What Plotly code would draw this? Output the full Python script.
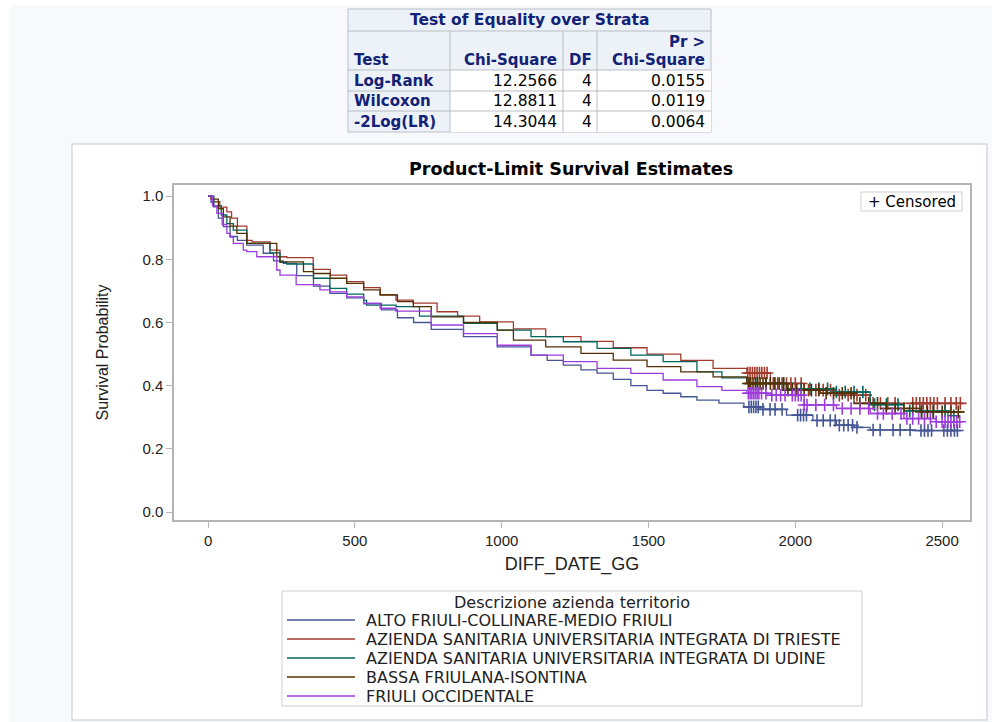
import numpy as np
import plotly.graph_objects as go

W, H = 992, 722

# strata (legend order) and SAS HTMLBlue colours
groups = [
    "ALTO FRIULI-COLLINARE-MEDIO FRIULI",
    "AZIENDA SANITARIA UNIVERSITARIA INTEGRATA DI TRIESTE",
    "AZIENDA SANITARIA UNIVERSITARIA INTEGRATA DI UDINE",
    "BASSA FRIULANA-ISONTINA",
    "FRIULI OCCIDENTALE",
]
colors = ["#445694", "#A23A2E", "#01665E", "#543005", "#9D3CDB"]

# product-limit estimates (days, survival)
alto_t = [0, 10, 18, 35, 52, 75, 100, 132, 188, 223, 256, 302, 359, 415, 472, 530, 590, 645, 700, 760,
          870, 985, 1100, 1155, 1210, 1270, 1325, 1380, 1440, 1495, 1550, 1610, 1665, 1740, 1825, 1880,
          1970, 2060, 2140, 2200, 2255, 2400, 2561]
alto_s = [1.0, 0.98, 0.966, 0.93, 0.903, 0.872, 0.86, 0.845, 0.819, 0.795, 0.787, 0.748, 0.715, 0.692,
          0.678, 0.66, 0.64, 0.615, 0.60, 0.578, 0.555, 0.523, 0.497, 0.48, 0.465, 0.45, 0.44, 0.42, 0.40,
          0.385, 0.376, 0.365, 0.354, 0.345, 0.333, 0.325, 0.307, 0.29, 0.275, 0.268, 0.26, 0.258, 0.256]
alto_cens = [1842, 1850, 1858, 1866, 1874, 1890, 1914, 1931, 1955, 2008, 2018, 2028, 2038, 2074, 2095,
             2119, 2136, 2150, 2165, 2180, 2195, 2210, 2265, 2289, 2333, 2357, 2391, 2428, 2440, 2452,
             2464, 2506, 2518, 2530, 2542, 2552]

trieste_t = [0, 10, 18, 40, 64, 80, 100, 132, 150, 211, 245, 268, 358, 416, 472, 530, 586, 640, 699, 780,
             850, 925, 1040, 1150, 1270, 1380, 1495, 1610, 1720, 1835, 1915, 2030, 2140, 2255, 2425, 2575]
trieste_s = [1.0, 0.99, 0.982, 0.965, 0.95, 0.93, 0.905, 0.86, 0.855, 0.829, 0.808, 0.805, 0.768, 0.75,
             0.729, 0.71, 0.688, 0.671, 0.661, 0.634, 0.62, 0.602, 0.58, 0.555, 0.54, 0.52, 0.50, 0.48,
             0.455, 0.44, 0.407, 0.386, 0.37, 0.344, 0.344, 0.342]
trieste_cens = [1838, 1846, 1854, 1862, 1870, 1878, 1886, 1895, 1904, 1925, 1940, 1955, 1970, 1985,
                2000, 2020, 2045, 2070, 2095, 2120, 2150, 2180, 2210, 2240, 2265, 2290, 2315, 2340, 2400,
                2412, 2424, 2436, 2448, 2460, 2472, 2484, 2510, 2530, 2548, 2562]

udine_t = [0, 20, 45, 64, 86, 132, 211, 245, 268, 359, 415, 472, 530, 540, 640, 720, 870, 985, 1100,
           1210, 1325, 1440, 1550, 1665, 1750, 1835, 1970, 2140, 2255, 2370, 2520]
udine_s = [1.0, 0.97, 0.94, 0.913, 0.892, 0.85, 0.82, 0.79, 0.785, 0.74, 0.708, 0.69, 0.67, 0.655, 0.65,
           0.62, 0.597, 0.576, 0.555, 0.539, 0.518, 0.497, 0.476, 0.444, 0.425, 0.407, 0.39, 0.38, 0.34,
           0.32, 0.305]
udine_cens = [1845, 1870, 1900, 1930, 1960, 1990, 2020, 2050, 2080, 2110, 2140, 2170, 2200, 2230, 2270,
              2310, 2350, 2390, 2430, 2470, 2510, 2540]

bassa_t = [0, 15, 35, 52, 75, 98, 132, 234, 245, 325, 359, 416, 472, 530, 586, 645, 699, 760, 870, 985,
           1040, 1150, 1270, 1380, 1495, 1610, 1720, 1835, 1970, 2085, 2200, 2310, 2425, 2575]
bassa_s = [1.0, 0.99, 0.96, 0.934, 0.905, 0.882, 0.85, 0.808, 0.792, 0.761, 0.755, 0.74, 0.724, 0.703,
           0.687, 0.666, 0.65, 0.618, 0.60, 0.576, 0.544, 0.523, 0.502, 0.481, 0.46, 0.444, 0.428, 0.407,
           0.386, 0.376, 0.344, 0.328, 0.317, 0.317]
bassa_cens = [1840, 1848, 1856, 1864, 1872, 1880, 1890, 1900, 1915, 1930, 1945, 1960, 1975, 1990, 2005,
              2030, 2055, 2080, 2105, 2130, 2160, 2190, 2220, 2250, 2280, 2310, 2340, 2370, 2400, 2430,
              2450, 2470, 2500, 2530, 2555]

occ_t = [0, 15, 30, 48, 64, 75, 86, 120, 132, 166, 234, 245, 300, 381, 415, 472, 530, 586, 640, 760, 870,
         985, 1100, 1210, 1325, 1440, 1550, 1665, 1750, 1835, 1915, 2030, 2140, 2255, 2370, 2480, 2561]
occ_s = [1.0, 0.97, 0.945, 0.91, 0.882, 0.87, 0.85, 0.829, 0.824, 0.808, 0.766, 0.75, 0.72, 0.703, 0.697,
         0.681, 0.66, 0.645, 0.636, 0.592, 0.565, 0.528, 0.497, 0.476, 0.455, 0.439, 0.418, 0.397, 0.385,
         0.376, 0.37, 0.339, 0.328, 0.312, 0.296, 0.286, 0.283]
occ_cens = [1840, 1846, 1852, 1858, 1864, 1870, 1876, 1885, 1900, 1920, 1935, 1950, 1965, 1990, 2000,
            2010, 2020, 2030, 2040, 2070, 2100, 2130, 2160, 2190, 2220, 2250, 2280, 2300, 2330, 2360,
            2380, 2400, 2420, 2440, 2460, 2480, 2500, 2510, 2520, 2530, 2540, 2550, 2560]

# Test of Equality over Strata
test_names = ["Log-Rank", "Wilcoxon", "-2Log(LR)"]
chi_square = ["12.2566", "12.8811", "14.3044"]
df_vals = ["4", "4", "4"]
p_values = ["0.0155", "0.0119", "0.0064"]

x_ticks = [0, 500, 1000, 1500, 2000, 2500]
y_ticks = [0.0, 0.2, 0.4, 0.6, 0.8, 1.0]

curves = [(alto_t, alto_s, alto_cens), (trieste_t, trieste_s, trieste_cens), (udine_t, udine_s, udine_cens),
          (bassa_t, bassa_s, bassa_cens), (occ_t, occ_s, occ_cens)]

REG = "DejaVu Sans"
NARROW = "Liberation Sans Narrow, Arial Narrow, Liberation Sans"
HEAD = "#112277"


def px(x):
    return x / W


def py(y):
    return 1 - y / H


fig = go.Figure()

for (t, s, cens), name, col in zip(curves, groups, colors):
    fig.add_trace(go.Scatter(x=t, y=s, mode="lines", line=dict(color=col, width=1.3, shape="hv"),
                             name=name, showlegend=False))
    # censored obs sit on the step value in force at that time
    idx = np.searchsorted(np.array(t), np.array(cens), side="right") - 1
    fig.add_trace(go.Scatter(x=cens, y=np.array(s)[idx], mode="markers",
                             marker=dict(symbol="cross-thin", size=9, line=dict(color=col, width=1.6)),
                             showlegend=False, hoverinfo="skip"))

shapes = []
annots = []

# page and graph panel
shapes.append(dict(type="rect", xref="paper", yref="paper", x0=px(10), x1=1, y0=0, y1=py(5),
                   fillcolor="#F8F9FD", line=dict(width=0), layer="below"))
shapes.append(dict(type="rect", xref="paper", yref="paper", x0=px(72), x1=px(987), y0=py(720), y1=py(144),
                   fillcolor="white", line=dict(color="#D8D8D8", width=1.5), layer="below"))

# statistics table
col_x = [348, 450, 563, 597, 711]
row_y = [9, 31, 70, 91, 111, 132]
shapes.append(dict(type="rect", xref="paper", yref="paper", x0=px(col_x[0]), x1=px(col_x[-1]),
                   y0=py(row_y[-1]), y1=py(row_y[0]), fillcolor="#EDF1F8", line=dict(color="#B9BDC4", width=1)))
for r in range(3):
    shapes.append(dict(type="rect", xref="paper", yref="paper", x0=px(col_x[1]), x1=px(col_x[-1]),
                       y0=py(row_y[r + 3]), y1=py(row_y[r + 2]), fillcolor="white", line=dict(width=0)))
for yy in row_y[1:-1]:
    shapes.append(dict(type="line", xref="paper", yref="paper", x0=px(col_x[0]), x1=px(col_x[-1]),
                       y0=py(yy), y1=py(yy), line=dict(color="#B9BDC4", width=1)))
for xx in col_x[1:-1]:
    shapes.append(dict(type="line", xref="paper", yref="paper", x0=px(xx), x1=px(xx),
                       y0=py(row_y[-1]), y1=py(row_y[1]), line=dict(color="#B9BDC4", width=1)))


def txt(x, y, s, anchor="left", size=15, color="black", family=REG, bold=False):
    annots.append(dict(x=px(x), y=py(y), xref="paper", yref="paper", text=f"<b>{s}</b>" if bold else s,
                       showarrow=False, xanchor=anchor, yanchor="middle",
                       font=dict(family=family, size=size, color=color)))


txt((col_x[0] + col_x[-1]) / 2, 20, "Test of Equality over Strata", "center", 15.5, HEAD, bold=True)
txt(707, 42, "Pr &gt;", "right", 15, HEAD, bold=True)
txt(352, 60, "Test", "left", 15, HEAD, bold=True)
txt(559, 60, "Chi-Square", "right", 15, HEAD, bold=True)
txt(594, 60, "DF", "right", 15, HEAD, bold=True)
txt(707, 60, "Chi-Square", "right", 15, HEAD, bold=True)
for i in range(3):
    yy = (row_y[i + 2] + row_y[i + 3]) / 2
    txt(352, yy, test_names[i], "left", 15, HEAD, bold=True)
    txt(559, yy, chi_square[i], "right", 15.5)
    txt(594, yy, df_vals[i], "right", 15.5)
    txt(707, yy, p_values[i], "right", 15.5)

# plot title
txt(571, 169, "Product-Limit Survival Estimates", "center", 17.5, "black", bold=True)

# censored inset legend
shapes.append(dict(type="rect", xref="paper", yref="paper", x0=px(861), x1=px(962), y0=py(211), y1=py(192),
                   fillcolor="white", line=dict(color="#CFCFCF", width=1)))
txt(911.5, 202, "+ Censored", "center", 15)

# strata legend
shapes.append(dict(type="rect", xref="paper", yref="paper", x0=px(282), x1=px(862), y0=py(706), y1=py(591),
                   fillcolor="white", line=dict(color="#CFCFCF", width=1)))
txt(572, 602, "Descrizione azienda territorio", "center", 16, "#222222")
for i, (name, col) in enumerate(zip(groups, colors)):
    yy = 620 + i * 19
    shapes.append(dict(type="line", xref="paper", yref="paper", x0=px(287), x1=px(355), y0=py(yy), y1=py(yy),
                       line=dict(color=col, width=1.3)))
    txt(364, yy, name, "left", 16, "#222222")

fig.update_layout(
    width=W, height=H,
    margin=dict(l=0, r=0, t=0, b=0),
    paper_bgcolor="white", plot_bgcolor="white",
    shapes=shapes, annotations=annots,
    font=dict(family=REG, color="#222222"),
    xaxis=dict(domain=[px(174), px(970)], range=[-116, 2595], tickvals=x_ticks, ticks="outside", ticklen=6,
               tickcolor="#B4B4B4", linecolor="#B4B4B4", linewidth=1.5, mirror=True, showgrid=False,
               zeroline=False, tickfont=dict(family=NARROW, size=15, color="#222222"),
               title=dict(text="DIFF_DATE_GG", font=dict(family=NARROW, size=18, color="#222222"), standoff=10)),
    yaxis=dict(domain=[py(520), py(185)], range=[-0.025, 1.035], tickvals=y_ticks, tickformat=".1f",
               ticks="outside", ticklen=6, tickcolor="#B4B4B4", linecolor="#B4B4B4", linewidth=1.5,
               mirror=True, showgrid=False, zeroline=False,
               tickfont=dict(family=NARROW, size=15, color="#222222"),
               title=dict(text="Survival Probability", font=dict(family=NARROW, size=16, color="#222222"),
                          standoff=30)),
)

fig.write_html("out.html", config={"displayModeBar": False},
               post_script="document.body.style.margin='0';document.body.style.overflow='hidden';")
